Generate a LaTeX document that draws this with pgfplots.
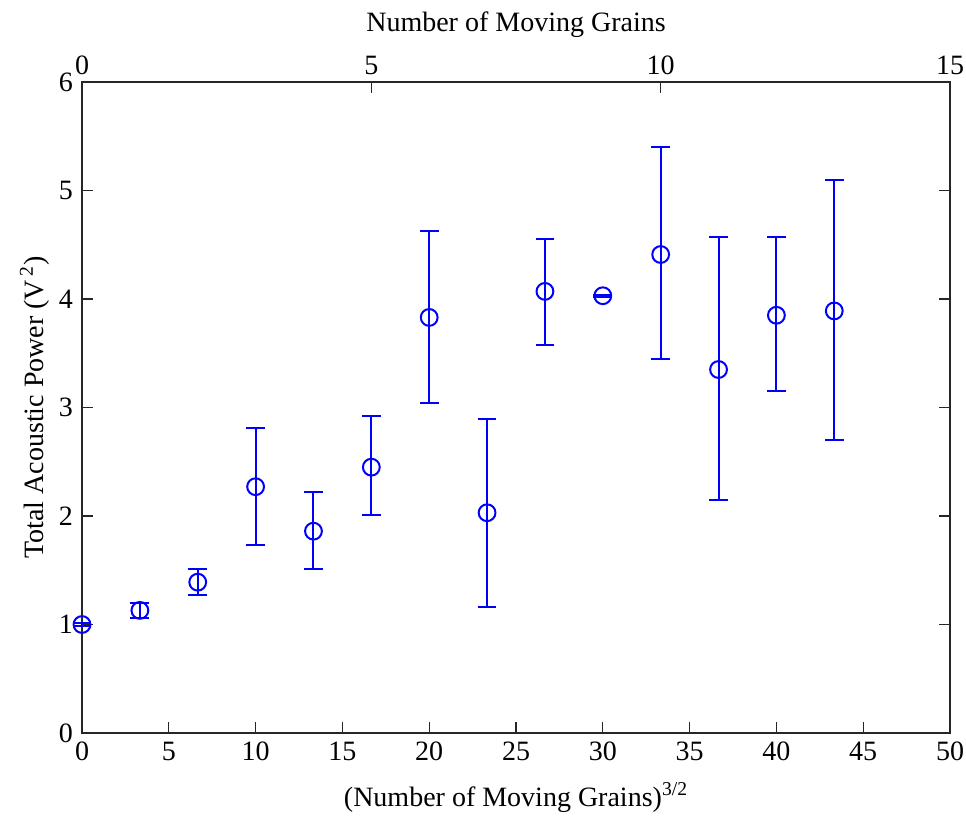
\documentclass[border=0pt]{standalone}
\usepackage{pgfplots}
\usepackage{pgfplotstable}
\pgfplotsset{compat=1.18}
\usepackage{fontspec}
\setmainfont{Liberation Serif}
\definecolor{mblue}{rgb}{0,0,1}
\definecolor{axgray}{rgb}{0.15,0.15,0.15}
\pgfplotstableread{
n y ep em
0 1.00 0.01 0.01
1 1.13 0.07 0.07
2 1.39 0.12 0.12
3 2.27 0.54 0.54
4 1.86 0.36 0.35
5 2.45 0.47 0.44
6 3.83 0.80 0.79
7 2.03 0.86 0.87
8 4.07 0.48 0.49
9 4.03 0.01 0.01
10 4.41 0.99 0.96
11 3.35 1.22 1.20
12 3.85 0.72 0.70
13 3.89 1.21 1.19
}\data
\begin{document}
\begin{tikzpicture}
\begin{axis}[
  name=ax,
  width=434pt, height=325.5pt, scale only axis,
  xmin=0, xmax=50, ymin=0, ymax=6,
  xtick={0,5,...,50}, ytick={0,1,...,6},
  xtick pos=bottom, ytick pos=both,
  tick align=inside, major tick length=5.5pt,
  axis line style={axgray, line width=0.75pt},
  every tick/.style={axgray, line width=0.6pt},
  /pgf/number format/assume math mode=true,
  ticklabel style={font=\fontsize{14}{16}\selectfont},
  label style={font=\fontsize{14}{16}\selectfont},
  xlabel={(Number of Moving Grains)\textsuperscript{3/2}},
  ylabel={Total Acoustic Power (V\textsuperscript{\,2})},
  xticklabel style={yshift=-1pt},
  yticklabel style={xshift=-1pt},
  ylabel style={yshift=-2pt},
  xlabel style={yshift=-4pt},
]
\end{axis}
\begin{axis}[
  width=434pt, height=325.5pt, scale only axis,
  at={(ax.south west)}, anchor=south west,
  xmin=0, xmax=15, ymin=0, ymax=6,
  axis x line*=top, axis y line=none,
  xtick={0,5,10,15},
  tick align=inside, major tick length=5.5pt,
  axis line style={axgray, line width=0.75pt},
  every tick/.style={axgray, line width=0.6pt},
  /pgf/number format/assume math mode=true,
  ticklabel style={font=\fontsize{14}{16}\selectfont},
  label style={font=\fontsize{14}{16}\selectfont},
  xlabel={Number of Moving Grains},
  xlabel style={yshift=2.5pt},
  clip=false,
]
\addplot[mblue, line width=1pt, only marks, mark=o, mark size=4.2pt,
  mark options={line width=1pt},
  error bars/.cd, y dir=both, y explicit,
  error mark options={rotate=90, mark size=4.7pt, line width=1pt, mblue},
  error bar style={line width=1pt, mblue}]
  table[x=n, y=y, y error plus=ep, y error minus=em] {\data};
\end{axis}
\pgfresetboundingbox
\path[use as bounding box] (ax.south west) ++(-41pt,-42pt) rectangle ([shift={(8pt,41pt)}]ax.north east);
\end{tikzpicture}
\end{document}
